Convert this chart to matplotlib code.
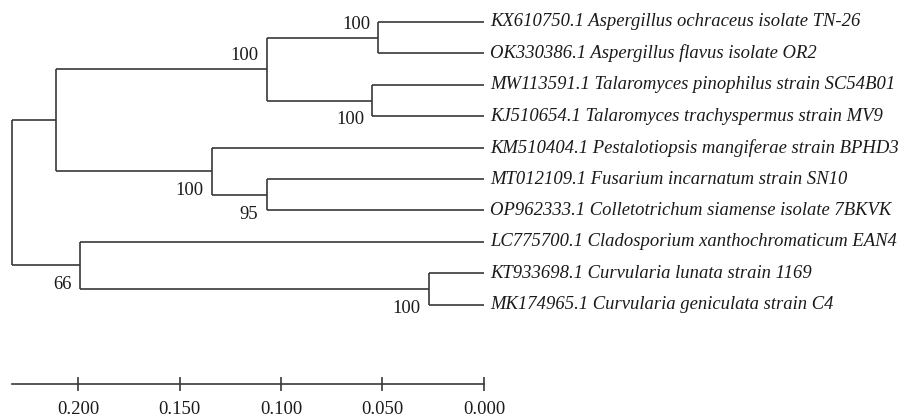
import matplotlib.pyplot as plt

# Blattnamen (oben nach unten)
leaves = [
    "KX610750.1 Aspergillus ochraceus isolate TN-26",
    "OK330386.1 Aspergillus flavus isolate OR2",
    "MW113591.1 Talaromyces pinophilus strain SC54B01",
    "KJ510654.1 Talaromyces trachyspermus strain MV9",
    "KM510404.1 Pestalotiopsis mangiferae strain BPHD3",
    "MT012109.1 Fusarium incarnatum strain SN10",
    "OP962333.1 Colletotrichum siamense isolate 7BKVK",
    "LC775700.1 Cladosporium xanthochromaticum EAN4",
    "KT933698.1 Curvularia lunata strain 1169",
    "MK174965.1 Curvularia geniculata strain C4",
]

# innere Knoten: Kinder (int = Blatt, str = Knoten), Hoehe, Bootstrap
node_names = ["asp", "tal", "asp_tal", "fus_col", "pest", "upper", "curv", "clado", "root"]
node_children = [(0, 1), (2, 3), ("asp", "tal"), (5, 6), (4, "fus_col"),
                 ("asp_tal", "pest"), (8, 9), (7, "curv"), ("upper", "clado")]
node_heights = [0.052, 0.055, 0.107, 0.107, 0.134, 0.211, 0.027, 0.199, 0.2325]
node_support = [100, 100, 100, 95, 100, None, 100, 66, None]

scale_ticks = [0.200, 0.150, 0.100, 0.050, 0.000]

LINE = "#383838"
TXT = "#1a1a1a"
FS = 13.4
plt.rcParams["font.family"] = ["Liberation Serif", "DejaVu Serif"]

W, H = 909, 417
fig = plt.figure(figsize=(W / 100, H / 100), dpi=100)

# Pixel-Massstab: Spitzen bei x=484 px, 2030 px pro Einheit, Blaetter ab y=22 px, 31.4 px Abstand
px_per_unit = 2030
tip_px = 484
y0, dy = 22, 31.4
ax = fig.add_axes([0, 0, 1, 1])
ax.set_xlim(tip_px / px_per_unit, (tip_px - W) / px_per_unit)
ax.set_ylim((H - y0) / dy, -y0 / dy)
ax.axis("off")

pos = {}
for i in range(len(leaves)):
    pos[i] = (0.0, float(i))

for name, ch, h in zip(node_names, node_children, node_heights):
    ys = [pos[c][1] for c in ch]
    pos[name] = (h, sum(ys) / 2)

# Zweige zeichnen
for name, ch, h in zip(node_names, node_children, node_heights):
    ys = [pos[c][1] for c in ch]
    ax.plot([h, h], [min(ys), max(ys)], color=LINE, lw=1.2, solid_capstyle="butt")
    for c in ch:
        cx, cy = pos[c]
        ax.plot([cx, h], [cy, cy], color=LINE, lw=1.2, solid_capstyle="butt")

# Bootstrap-Werte: oberes Kind -> oberhalb, unteres Kind -> unterhalb
parent_side = {}
for ch in node_children:
    parent_side[ch[0]] = "up"
    parent_side[ch[1]] = "down"
for name, sup in zip(node_names, node_support):
    if sup is None:
        continue
    x, y = pos[name]
    dyo = 9.5 if parent_side.get(name) == "up" else -14
    ax.annotate(str(sup), (x, y), xytext=(-6, dyo), textcoords="offset points",
                ha="right", va="center", fontsize=FS, color=TXT)

# Blattnamen
for i, lab in enumerate(leaves):
    ax.annotate(lab, (0, i), xytext=(4.5, 0), textcoords="offset points",
                ha="left", va="center", fontsize=FS, style="italic", color=TXT)

# Massstab
root_h = max(node_heights)
left = (tip_px - root_h * px_per_unit) / W
sax = fig.add_axes([left, 33 / H, (root_h * px_per_unit) / W, 0.01])
sax.set_xlim(root_h, 0)
sax.set_xticks(scale_ticks)
sax.set_xticklabels([f"{t:.3f}" for t in scale_ticks])
for s in ["top", "left", "right"]:
    sax.spines[s].set_visible(False)
sax.spines["bottom"].set_color(LINE)
sax.spines["bottom"].set_linewidth(1.2)
sax.set_yticks([])
sax.patch.set_alpha(0)
sax.tick_params(axis="x", direction="inout", length=10, width=1.2, color=LINE,
                pad=7, labelsize=FS, labelcolor=TXT)

fig.savefig("out.png", dpi=100)
